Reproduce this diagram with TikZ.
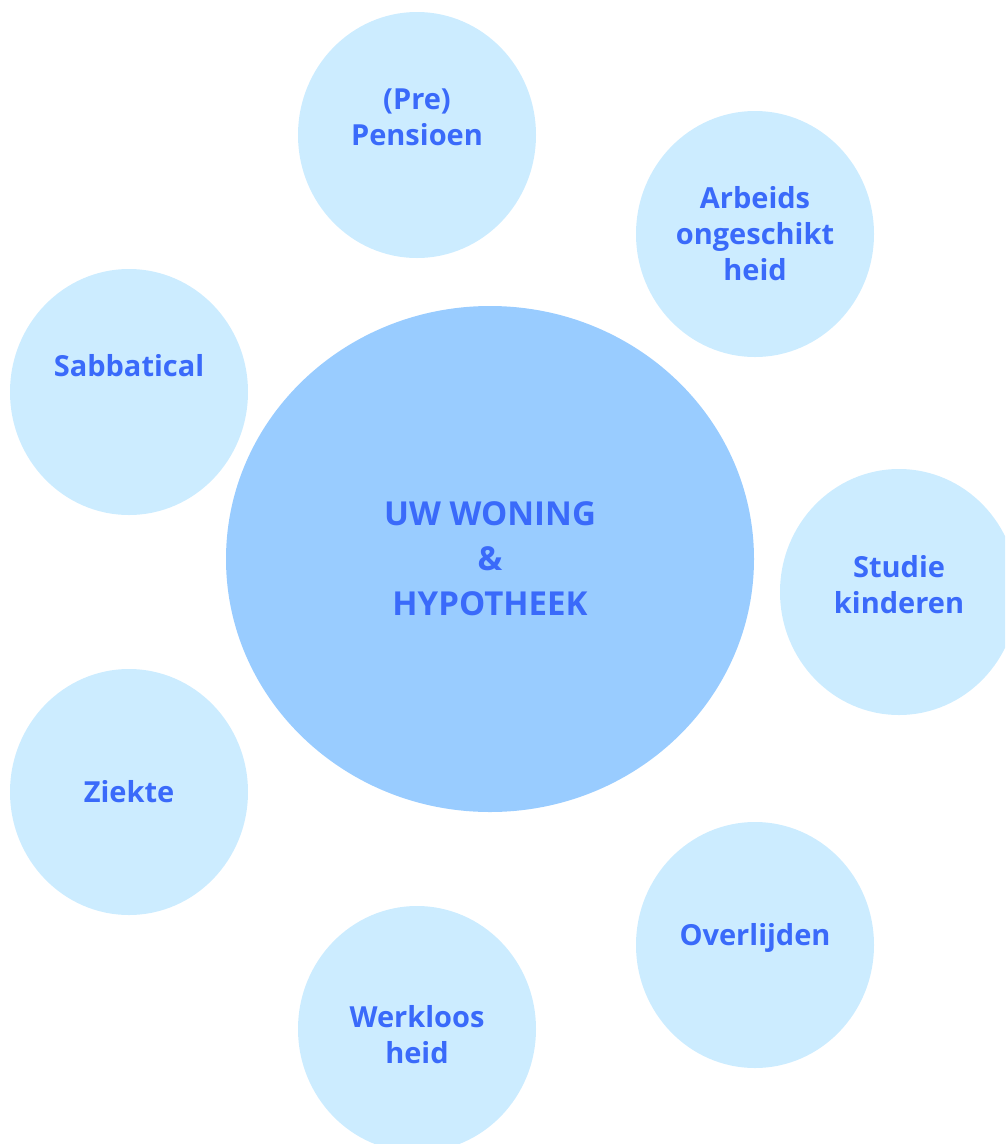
\documentclass[tikz,border=0pt]{standalone}
\usepackage{fontspec}
\setmainfont{Open Sans}
\usetikzlibrary{shapes.geometric}
\definecolor{bubble}{RGB}{204,236,255}
\definecolor{hub}{RGB}{153,204,255}
\definecolor{ink}{RGB}{58,106,250}
\begin{document}
\begin{tikzpicture}[x=1pt,y=-1pt,
  bub/.style={ellipse,fill=bubble,inner sep=0pt,minimum width=238pt,minimum height=246pt},
  txt/.style={text=ink,align=center,font=\bfseries\fontsize{29}{36}\selectfont}]
  \useasboundingbox (0,0) rectangle (1005,1144);
  \clip (0,0) rectangle (1005,1144);
  \node [ellipse,fill=hub,inner sep=0pt,minimum width=528pt,minimum height=506pt] (home) at (490,559) {};
  \node [txt,font=\bfseries\fontsize{33}{45}\selectfont] (home-t) at (home) {UW WONING\\\&\\HYPOTHEEK};
  \node [bub] (pens) at (417,135) {};
  \node [bub] (arb) at (755,234) {};
  \node [bub] (sabb) at (129,392) {};
  \node [bub] (stud) at (899,592) {};
  \node [bub] (ziek) at (129,792) {};
  \node [bub] (overl) at (755,945) {};
  \node [bub] (werk) at (417,1029) {};
  \node [txt] (pens-t) at ([yshift=18pt]pens) {(Pre)\\Pensioen};
  \node [txt] (arb-t) at (arb) {Arbeids\\ongeschikt\\heid};
  \node [txt] (sabb-t) at ([yshift=26pt]sabb) {Sabbatical};
  \node [txt] (stud-t) at ([yshift=7pt]stud) {Studie\\kinderen};
  \node [txt] (ziek-t) at (ziek) {Ziekte};
  \node [txt] (overl-t) at ([yshift=7pt]overl) {Overlijden};
  \node [txt] (werk-t) at ([yshift=-6pt]werk) {Werkloos\\heid};
\end{tikzpicture}
\end{document}
